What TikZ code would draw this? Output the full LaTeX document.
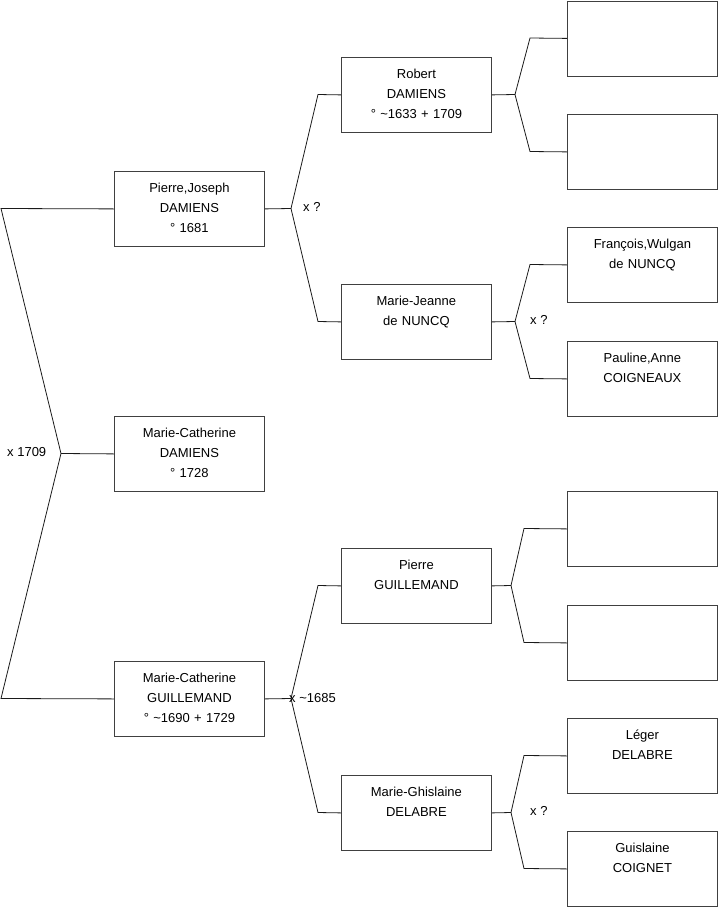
\documentclass[tikz,border=0pt]{standalone}
\usepackage{fontspec}
\setmainfont{Liberation Sans}
\usetikzlibrary{positioning}
\definecolor{boxline}{HTML}{404040}
\definecolor{treeline}{HTML}{1A1A1A}
\tikzset{
  person/.style={
    draw=boxline,
    line width=0.8pt,
    inner sep=0pt,
    anchor=north west,
    text width=150pt,
    align=center,
    text height=21pt,
    text depth=54pt,
    font=\fontsize{13}{20}\selectfont
  },
  link/.style={draw=treeline,line width=0.8pt},
  union/.style={anchor=west,inner sep=0pt,font=\fontsize{13}{15}\selectfont}
}

\begin{document}
\begin{tikzpicture}[x=1pt,y=-1pt]
  \useasboundingbox (0,0) rectangle (719,908);

  \node[person] (pj) at (114,171) {Pierre,Joseph\\DAMIENS\\° 1681};
  \node[person] (mcd) at (114,416) {Marie-Catherine\\DAMIENS\\° 1728};
  \node[person] (mcg) at (114,661) {Marie-Catherine\\GUILLEMAND\\° \textasciitilde1690 + 1729};

  \node[person] (rd) at (341,57) {Robert\\DAMIENS\\° \textasciitilde1633 + 1709};
  \node[person] (mjn) at (341,284) {Marie-Jeanne\\de NUNCQ};
  \node[person] (pg) at (341,548) {Pierre\\GUILLEMAND};
  \node[person] (mgd) at (341,775) {Marie-Ghislaine\\DELABRE};

  \node[person] (u1) at (567,0.5) {};
  \node[person] (u2) at (567,114) {};
  \node[person] (fwn) at (567,227) {François,Wulgan\\de NUNCQ};
  \node[person] (pac) at (567,341) {Pauline,Anne\\COIGNEAUX};
  \node[person] (u3) at (567,491) {};
  \node[person] (u4) at (567,605) {};
  \node[person] (ld) at (567,718) {Léger\\DELABRE};
  \node[person] (gc) at (567,831) {Guislaine\\COIGNET};

  \coordinate (f0) at (61,453.5);
  \coordinate (f1) at (291,208.5);
  \coordinate (f2) at (291,698.5);
  \coordinate (f3) at (515,94.5);
  \coordinate (f4) at (515,321.5);
  \coordinate (f5) at (511,585.5);
  \coordinate (f6) at (511,812.5);

  \draw[link] (mcd.west) -- (f0);
  \draw[link] (f0) -- (1,208.5) -- (pj.west);
  \draw[link] (f0) -- (1,698.5) -- (mcg.west);

  \draw[link] (pj.east) -- (f1);
  \draw[link] (f1) -- (318,94.5) -- (rd.west);
  \draw[link] (f1) -- (318,321.5) -- (mjn.west);

  \draw[link] (mcg.east) -- (f2);
  \draw[link] (f2) -- (318,585.5) -- (pg.west);
  \draw[link] (f2) -- (318,812.5) -- (mgd.west);

  \draw[link] (rd.east) -- (f3);
  \draw[link] (f3) -- (530,38) -- (u1.west);
  \draw[link] (f3) -- (530,151.5) -- (u2.west);

  \draw[link] (mjn.east) -- (f4);
  \draw[link] (f4) -- (530,264.5) -- (fwn.west);
  \draw[link] (f4) -- (530,378.5) -- (pac.west);

  \draw[link] (pg.east) -- (f5);
  \draw[link] (f5) -- (524,528.5) -- (u3.west);
  \draw[link] (f5) -- (524,642.5) -- (u4.west);

  \draw[link] (mgd.east) -- (f6);
  \draw[link] (f6) -- (524,755.5) -- (ld.west);
  \draw[link] (f6) -- (524,868.5) -- (gc.west);

  \node[union] (m0) at (7,452) {x 1709};
  \node[union] (m1) at (303,207) {x ?};
  \node[union] (m2) at (289,698) {x \textasciitilde1685};
  \node[union] (m3) at (530,320) {x ?};
  \node[union] (m4) at (530,811) {x ?};
\end{tikzpicture}
\end{document}
